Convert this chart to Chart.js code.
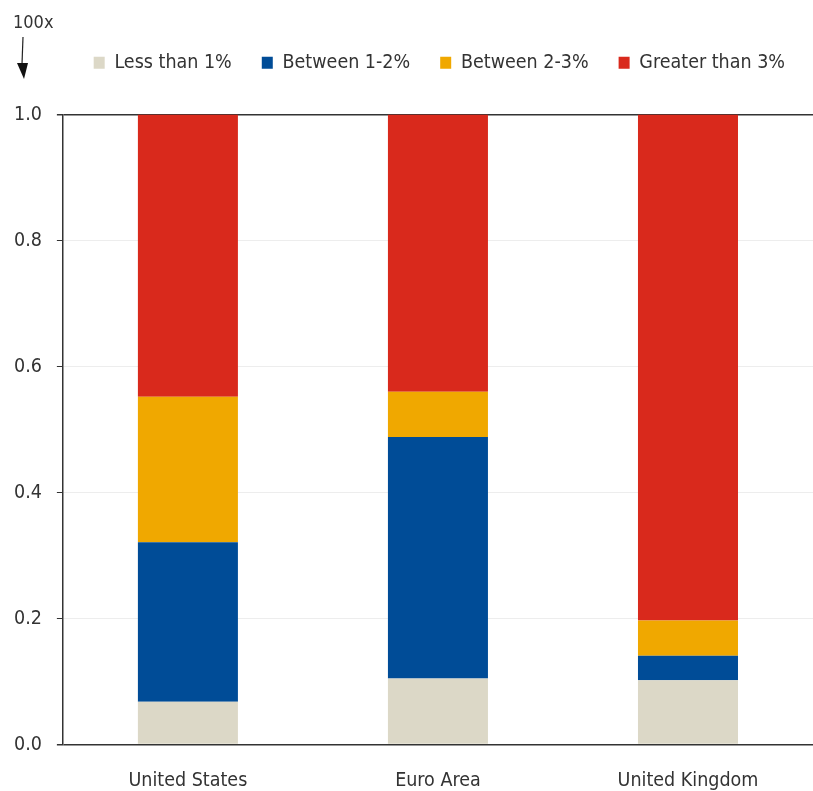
<!DOCTYPE html>
<html>
<head>
<meta charset="utf-8">
<style>
  html, body { margin: 0; padding: 0; background: #fff; }
  #wrap { width: 813px; height: 791px; position: relative; }
</style>
<script src="https://cdn.jsdelivr.net/npm/chart.js@4/dist/chart.umd.min.js"></script>
</head>
<body>
<div id="wrap"><canvas id="chart" width="813" height="791"></canvas></div>
<script>
// --- Data ---
const categories = ['United States', 'Euro Area', 'United Kingdom'];
const seriesNames = ['Less than 1%', 'Between 1-2%', 'Between 2-3%', 'Greater than 3%'];
const lessThan1 = [0.068, 0.105, 0.102];
const between1to2 = [0.253, 0.383, 0.039];
const between2to3 = [0.231, 0.072, 0.056];
const greaterThan3 = [0.448, 0.440, 0.803];
const yTicks = [0, 0.2, 0.4, 0.6, 0.8, 1.0];

const colors = ['#dcd8c7', '#004c97', '#f0a800', '#d9291c'];
const FONT = '"Liberation Sans Narrow", "DejaVu Sans Condensed", sans-serif';

// "100x" note with down arrow in the top-left corner
const cornerNote = {
  id: 'cornerNote',
  afterDraw(chart) {
    const ctx = chart.ctx;
    ctx.save();
    ctx.fillStyle = '#333';
    ctx.font = '18px ' + FONT;
    ctx.textBaseline = 'middle';
    ctx.fillText('100x', 13, 23);
    ctx.strokeStyle = '#222';
    ctx.lineWidth = 1.2;
    ctx.beginPath();
    ctx.moveTo(23, 37);
    ctx.lineTo(22, 64);
    ctx.stroke();
    ctx.beginPath();
    ctx.moveTo(17, 63);
    ctx.lineTo(24, 79);
    ctx.lineTo(28, 63);
    ctx.closePath();
    ctx.fillStyle = '#111';
    ctx.fill();
    ctx.restore();
  }
};

// add extra room under the legend
const legendGap = {
  id: 'legendGap',
  beforeLayout(chart) {
    const legend = chart.legend;
    if (!legend || legend._gapPatched) return;
    const fit = legend.fit;
    legend.fit = function () {
      fit.call(this);
      this.height += 32;
    };
    legend._gapPatched = true;
  }
};

const datasets = [lessThan1, between1to2, between2to3, greaterThan3].map((vals, i) => ({
  label: seriesNames[i],
  data: vals,
  backgroundColor: colors[i],
  borderWidth: 0,
  barPercentage: 0.4,
  categoryPercentage: 1.0
}));

new Chart(document.getElementById('chart'), {
  type: 'bar',
  data: { labels: categories, datasets },
  plugins: [cornerNote, legendGap],
  options: {
    responsive: false,
    animation: false,
    layout: { padding: { top: 23, left: -1, right: -2, bottom: -19 } },
    plugins: {
      tooltip: { enabled: false },
      legend: {
        position: 'top',
        align: 'end',
        labels: {
          boxWidth: 11,
          boxHeight: 12,
          padding: 30,
          color: '#333',
          font: { family: FONT, size: 19.5 }
        }
      }
    },
    scales: {
      x: {
        stacked: true,
        grid: { display: false },
        border: { display: false },
        ticks: { color: '#333', font: { family: FONT, size: 19.5 }, padding: 17 }
      },
      y: {
        stacked: true,
        min: 0,
        max: 1,
        afterBuildTicks: axis => { axis.ticks = yTicks.map(v => ({ value: v })); },
        border: { display: true, color: '#333', width: 1.5 },
        grid: {
          color: c => (c.tick.value === 0 || c.tick.value === 1) ? '#333' : '#ededed',
          lineWidth: c => (c.tick.value === 0 || c.tick.value === 1) ? 1.5 : 1,
          tickLength: 6,
          tickColor: '#333'
        },
        ticks: {
          color: '#333',
          padding: 15,
          font: { family: FONT, size: 19.5 },
          callback: v => v.toFixed(1)
        }
      }
    }
  }
});
</script>
</body>
</html>
